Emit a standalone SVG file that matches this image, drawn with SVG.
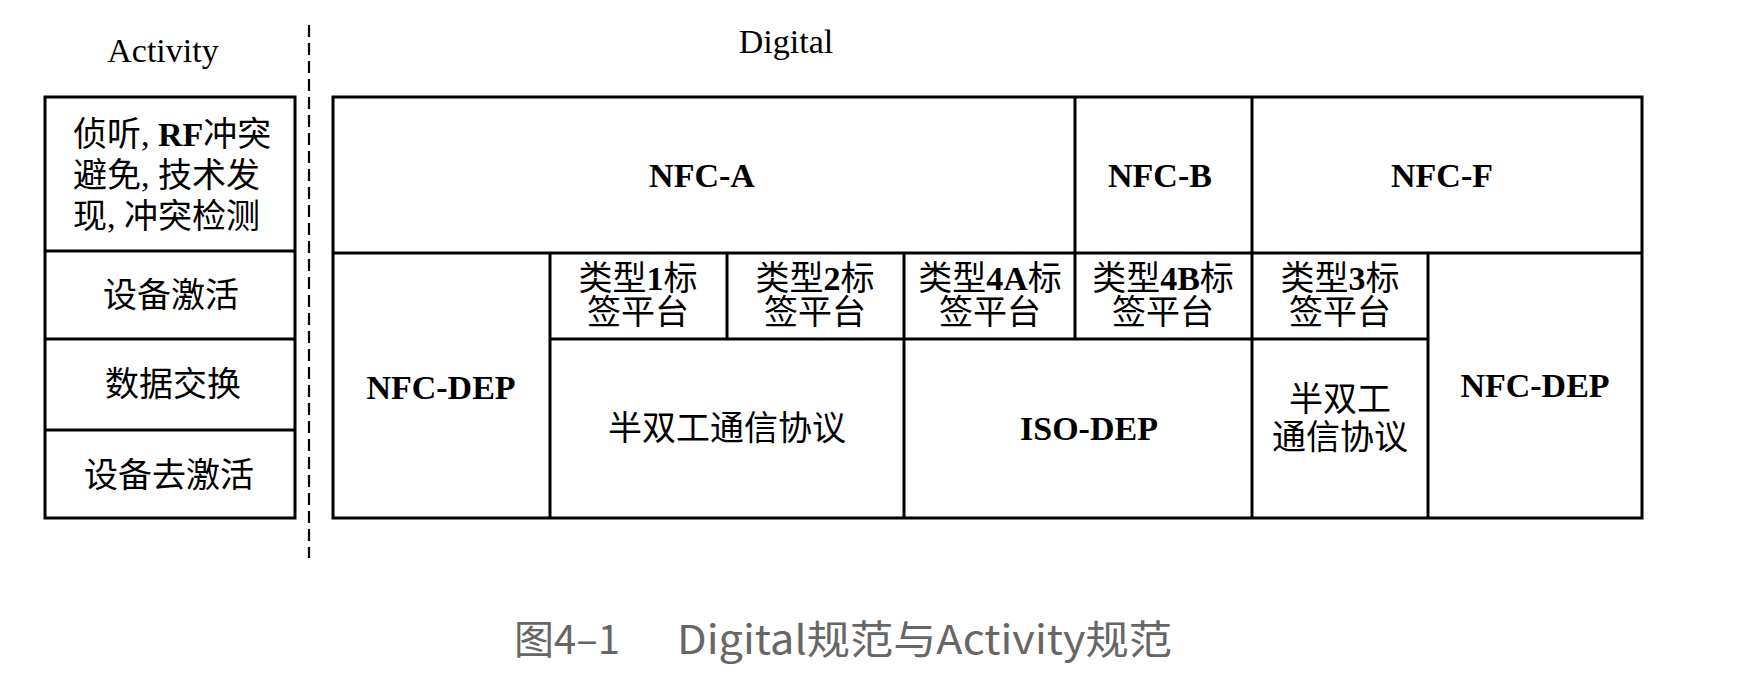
<svg xmlns="http://www.w3.org/2000/svg" width="1760" height="684" viewBox="0 0 1760 684">
  <style>
    .box { fill: #fff; stroke: #000; stroke-width: 3; }
    .ln { stroke: #000; stroke-width: 3; fill: none; }
    .dash { stroke: #000; stroke-width: 2.2; stroke-dasharray: 12 6; fill: none; }
    .t { font-family: "Liberation Serif", "Noto Sans CJK SC", serif; font-size: 34px; fill: #000; }
    .c { text-anchor: middle; }
    .b { font-weight: bold; }
    .cap { font-family: "Noto Sans CJK SC", "Noto Sans", sans-serif; font-size: 40px; fill: #666; }
  </style>

  <!-- column titles -->
  <text class="t c" x="163" y="62">Activity</text>
  <text class="t c" x="786" y="53">Digital</text>

  <!-- separator between the two columns -->
  <line class="dash" x1="309" y1="25" x2="309" y2="558"/>

  <!-- Activity column -->
  <g id="activity">
    <rect class="box" x="45" y="97" width="250" height="421"/>
    <g id="act-listen">
      <line class="ln" x1="45" y1="251" x2="295" y2="251"/>
      <text class="t" x="73" y="146">侦听, <tspan class="b">RF</tspan>冲突</text>
      <text class="t" x="73" y="187">避免, 技术发</text>
      <text class="t" x="73" y="228">现, 冲突检测</text>
    </g>
    <g id="act-activation">
      <line class="ln" x1="45" y1="339" x2="295" y2="339"/>
      <text class="t c" x="171" y="307">设备激活</text>
    </g>
    <g id="act-exchange">
      <line class="ln" x1="45" y1="430" x2="295" y2="430"/>
      <text class="t c" x="173" y="396">数据交换</text>
    </g>
    <g id="act-deactivation">
      <text class="t c" x="169" y="487">设备去激活</text>
    </g>
  </g>

  <!-- Digital column -->
  <g id="digital">
    <rect class="box" x="333" y="97" width="1309" height="421"/>
  </g>

  <!-- cell borders -->
  <g id="grid">
    <line class="ln" x1="333" y1="253" x2="1642" y2="253"/>
    <line class="ln" x1="550" y1="339" x2="1428" y2="339"/>
    <line class="ln" x1="1075" y1="97" x2="1075" y2="339"/>
    <line class="ln" x1="1252" y1="97" x2="1252" y2="518"/>
    <line class="ln" x1="550" y1="253" x2="550" y2="518"/>
    <line class="ln" x1="727" y1="253" x2="727" y2="339"/>
    <line class="ln" x1="904" y1="253" x2="904" y2="518"/>
    <line class="ln" x1="1428" y1="253" x2="1428" y2="518"/>
  </g>

  <g id="nfc-a"><text class="t c b" x="702" y="187">NFC-A</text></g>
  <g id="nfc-b"><text class="t c b" x="1160" y="187">NFC-B</text></g>
  <g id="nfc-f"><text class="t c b" x="1442" y="187">NFC-F</text></g>

  <g id="tag1">
    <text class="t c" x="638" y="290">类型<tspan class="b">1</tspan>标</text>
    <text class="t c" x="638" y="324">签平台</text>
  </g>
  <g id="tag2">
    <text class="t c" x="815" y="290">类型<tspan class="b">2</tspan>标</text>
    <text class="t c" x="815" y="324">签平台</text>
  </g>
  <g id="tag4a">
    <text class="t c" x="990" y="290">类型<tspan class="b">4A</tspan>标</text>
    <text class="t c" x="990" y="324">签平台</text>
  </g>
  <g id="tag4b">
    <text class="t c" x="1163" y="290">类型<tspan class="b">4B</tspan>标</text>
    <text class="t c" x="1163" y="324">签平台</text>
  </g>
  <g id="tag3">
    <text class="t c" x="1340" y="290">类型<tspan class="b">3</tspan>标</text>
    <text class="t c" x="1340" y="324">签平台</text>
  </g>

  <g id="nfc-dep-a"><text class="t c b" x="441" y="399">NFC-DEP</text></g>
  <g id="half-duplex-a"><text class="t c" x="727" y="440">半双工通信协议</text></g>
  <g id="iso-dep"><text class="t c b" x="1089" y="440">ISO-DEP</text></g>
  <g id="half-duplex-f">
    <text class="t c" x="1340" y="411">半双工</text>
    <text class="t c" x="1340" y="449">通信协议</text>
  </g>
  <g id="nfc-dep-f"><text class="t c b" x="1535" y="397">NFC-DEP</text></g>

  <!-- caption -->
  <text class="cap" x="514" y="654">图4–1</text>
  <text class="cap" x="677" y="654" textLength="495" lengthAdjust="spacingAndGlyphs">Digital规范与Activity规范</text>
</svg>
